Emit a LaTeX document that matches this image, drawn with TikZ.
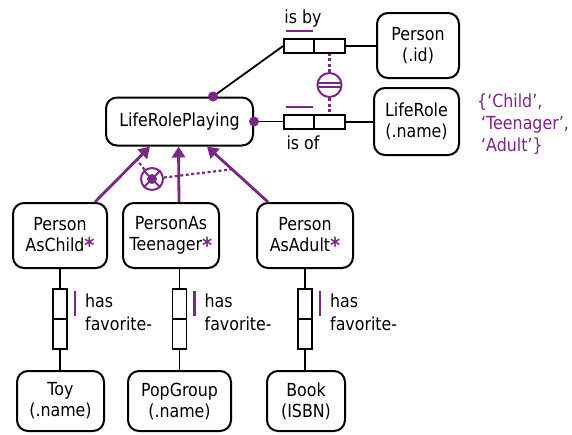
\documentclass[tikz,border=0pt]{standalone}
\usepackage{fontspec}
\setmainfont{DejaVu Sans}[FakeStretch=0.88]
\usetikzlibrary{arrows.meta,calc}
\definecolor{ormpurple}{RGB}{120,40,130}
\newcommand{\subst}{\textcolor{ormpurple}{\raisebox{-2.5pt}{\fontsize{22}{22}\selectfont\bfseries *}}}
\begin{document}
\begin{tikzpicture}[x=1pt,y=-1pt,
  font=\fontsize{18}{21}\selectfont,
  entity/.style={draw,line width=2pt,rounded corners=11pt,align=center,inner sep=0pt},
  role/.style={draw,line width=1.8pt,inner sep=0pt,minimum width=30pt,minimum height=14pt},
  vrole/.style={draw,line width=1.8pt,inner sep=0pt,minimum width=14pt,minimum height=30pt},
  link/.style={line width=1.8pt},
  subarrow/.style={draw=ormpurple,line width=2.8pt,-{Triangle[length=11pt,width=13pt]}},
  cdash/.style={draw=ormpurple,line width=2.2pt,dash pattern=on 3pt off 2.5pt},
  ubar/.style={draw=ormpurple,line width=2.2pt},
  mdot/.style={circle,fill=ormpurple,inner sep=0pt,minimum size=10pt},
  cring/.style={circle,draw=ormpurple,line width=2pt,inner sep=0pt},
  txt/.style={inner sep=0pt,align=left}
]
\useasboundingbox (0,0) rectangle (572,434);

% entity types
\node[entity,minimum width=147pt,minimum height=48pt] (lrp) at (179.5,121.5) {LifeRolePlaying};
\node[entity,minimum width=82pt,minimum height=65pt] (person) at (418,45.5) {Person\\(.id)};
\node[entity,minimum width=85pt,minimum height=67pt] (liferole) at (416.5,121.5) {LifeRole\\(.name)};
\node[entity,minimum width=94pt,minimum height=65pt] (child) at (60,235.5) {Person\\AsChild\subst};
\node[entity,minimum width=96pt,minimum height=65pt] (teen) at (171,235.5) {PersonAs\\Teenager\subst};
\node[entity,minimum width=96pt,minimum height=65pt] (adult) at (305,235.5) {Person\\AsAdult\subst};
\node[entity,minimum width=87pt,minimum height=60pt] (toy) at (60.5,401) {Toy\\(.name)};
\node[entity,minimum width=103pt,minimum height=60pt] (pop) at (179.5,401) {PopGroup\\(.name)};
\node[entity,minimum width=78pt,minimum height=60pt] (book) at (306,401) {Book\\(ISBN)};

% value constraint
\node[txt,anchor=north west,text=ormpurple,font=\fontsize{18}{22}\selectfont] (vals) at (477,94)
  {\{‘Child’,\\\hspace{4pt}‘Teenager’,\\\hspace{4pt}‘Adult’\}};

% fact type: LifeRolePlaying is by Person
\node[role] (by1) at (299,46) {};
\node[role,minimum width=31pt] (by2) at (329.5,46) {};
\node[txt] (isby) at (303,19) {is by};
\draw[ubar] ([shift={(3,-7)}]by1.north west) -- ([shift={(-2,-7)}]by1.north east);
\draw[link] ([xshift=33.5pt]lrp.north) -- (by1.west);
\draw[link] (by2.east) -- (by2.east -| person.west);
\node[mdot] (dot1) at ([xshift=33.5pt]lrp.north) {};

% fact type: LifeRolePlaying is of LifeRole
\node[role] (of1) at (299,122) {};
\node[role,minimum width=31pt] (of2) at (329.5,122) {};
\node[txt] (isof) at (303,143) {is of};
\draw[ubar] ([shift={(3,-7)}]of1.north west) -- ([shift={(-2,-7)}]of1.north east);
\draw[link] (lrp.east) -- (lrp.east -| of1.west);
\draw[link] (of2.east) -- (of2.east -| liferole.west);
\node[mdot] (dot2) at (lrp.east) {};

% equality constraint
\node[cring,minimum size=24pt] (eq) at (329.5,85) {};
\draw[ormpurple,line width=1.6pt] ([shift={(-11.5,-1.8)}]eq.center) -- ([shift={(11.5,-1.8)}]eq.center);
\draw[ormpurple,line width=1.6pt] ([shift={(-11.5,1.8)}]eq.center) -- ([shift={(11.5,1.8)}]eq.center);
\draw[cdash] (eq.north) -- (by2.south);
\draw[cdash] (eq.south) -- (of2.north);

% subtype links
\coordinate (cTail) at ([xshift=35pt]child.north);
\coordinate (cHead) at ([xshift=-29.5pt]lrp.south);
\coordinate (aTail) at ([xshift=-37pt]adult.north);
\coordinate (aHead) at ([xshift=27.5pt]lrp.south);
\draw[subarrow] (cTail) -- (cHead);
\draw[subarrow] ([xshift=8pt]teen.north) -- ([xshift=-1pt]lrp.south);
\draw[subarrow] (aTail) -- (aHead);

% exclusive-or constraint over the subtypes
\node[cring,minimum size=22pt] (xor) at (152,179) {};
\draw[ormpurple,line width=1.8pt] (xor.north west) -- (xor.south east);
\draw[ormpurple,line width=1.8pt] (xor.north east) -- (xor.south west);
\fill[ormpurple] (xor.center) circle (5pt);
\coordinate (xl) at ($(cTail)!0.76!(cHead)$);
\coordinate (xr) at ($(aTail)!0.59!(aHead)$);
\draw[cdash] (xor) -- (xl);
\draw[cdash] (xor) -- (xr);

% fact types: ... has favorite ...
\node[vrole] (c1) at (60,304) {};
\node[vrole] (c2) at (60,334) {};
\node[vrole] (t1) at (179.5,304) {};
\node[vrole] (t2) at (179.5,334) {};
\node[vrole] (a1) at (305,304) {};
\node[vrole] (a2) at (305,334) {};
\foreach \r in {c1,t1,a1}{
  \draw[ubar] ([shift={(7,3)}]\r.north east) -- ([shift={(7,28)}]\r.north east);
}
\node[txt,anchor=north west,font=\fontsize{18}{23}\selectfont] (hasC) at (85,294) {has\\favorite-};
\node[txt,anchor=north west,font=\fontsize{18}{23}\selectfont] (hasT) at (204.5,294) {has\\favorite-};
\node[txt,anchor=north west,font=\fontsize{18}{23}\selectfont] (hasA) at (330,294) {has\\favorite-};
\draw[link] (c1.north |- child.south) -- (c1.north);
\draw[link] (c2.south) -- (c2.south |- toy.north);
\draw[link] (t1.north |- teen.south) -- (t1.north);
\draw[link] (t2.south) -- (t2.south |- pop.north);
\draw[link] (a1.north |- adult.south) -- (a1.north);
\draw[link] (a2.south) -- (a2.south |- book.north);
\end{tikzpicture}
\end{document}
